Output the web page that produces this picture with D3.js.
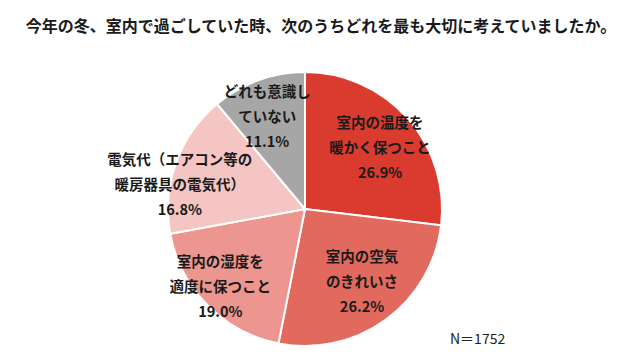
<!DOCTYPE html>
<html><head><meta charset="utf-8">
<script src="https://cdn.jsdelivr.net/npm/d3@7"></script>
<style>body{margin:0;background:#fff}svg{display:block}</style>
</head><body>
<svg id="c" width="640" height="360"></svg>
<script>
const title = "今年の冬、室内で過ごしていた時、次のうちどれを最も大切に考えていましたか。";
const categories = [
  ["室内の温度を","暖かく保つこと"],
  ["室内の空気","のきれいさ"],
  ["室内の湿度を","適度に保つこと"],
  ["電気代（エアコン等の","暖房器具の電気代）"],
  ["どれも意識し","ていない"]
];
const values = [26.9, 26.2, 19.0, 16.8, 11.1];
const colors = ["#D93B2F", "#E2695D", "#EC968F", "#F4C5C2", "#A6A6A6"];
const note = "N＝1752";

const svg = d3.select("#c");
const cx = 305, cy = 209, r = 137;
const font = "'Noto Sans CJK JP', 'Noto Sans', sans-serif";

svg.append("text").attr("x", 321).attr("y", 32).attr("text-anchor","middle")
  .attr("font-family", font).attr("font-weight","bold").attr("font-size", 16)
  .attr("fill","#1a1a1a").text(title);

const pie = d3.pie().sort(null).value(d => d)(values);
const arc = d3.arc().innerRadius(0).outerRadius(r);
const g = svg.append("g").attr("transform", `translate(${cx},${cy})`);
g.selectAll("path").data(pie).join("path")
  .attr("d", arc).attr("fill", (d,i) => colors[i])
  .attr("stroke","#fff").attr("stroke-width", 2);

// label placement: radius fraction and angle shift (degrees) from slice mid-angle
const labelR = [0.706, 0.676, 0.84, 0.93, 0.726];
const labelShift = [2.5, -2, 2, -9, -2.4];
const lineH = 25;
pie.forEach((d,i) => {
  const a = (d.startAngle + d.endAngle)/2 + labelShift[i] * Math.PI / 180;
  const lr = r * labelR[i];
  const x = Math.sin(a) * lr, y = -Math.cos(a) * lr;
  const lines = categories[i].concat([values[i].toFixed(1) + "%"]);
  const t = g.append("text").attr("text-anchor","middle")
    .attr("font-family", font).attr("font-weight","bold").attr("font-size", 14.5)
    .attr("fill","#1a1a1a");
  lines.forEach((l, k) => {
    t.append("tspan").attr("x", x).attr("y", y + (k - 1) * lineH + 5).text(l);
  });
});

svg.append("text").attr("x", 450).attr("y", 344)
  .attr("font-family", font).attr("font-size", 14).attr("fill","#222").text(note);
</script>
</body></html>
